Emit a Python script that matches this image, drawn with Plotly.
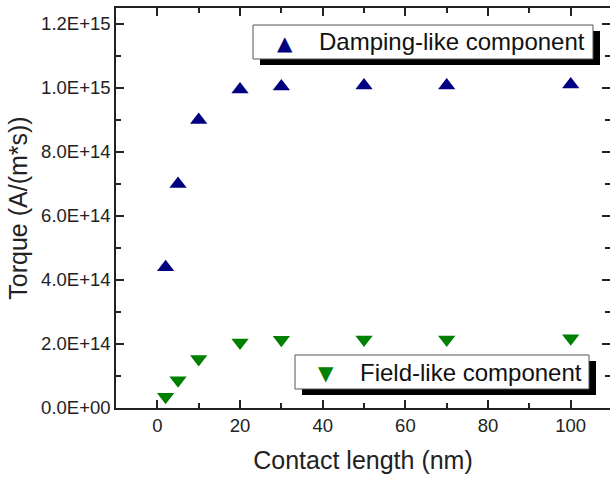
import plotly.graph_objects as go

contact_length = [2, 5, 10, 20, 30, 50, 70, 100]
damping_like = [0.44e15, 0.70e15, 0.90e15, 0.995e15, 1.005e15, 1.008e15, 1.008e15, 1.011e15]
field_like = [0.035e15, 0.087e15, 0.153e15, 0.205e15, 0.213e15, 0.214e15, 0.214e15, 0.218e15]

y_tickvals = [0, 2e14, 4e14, 6e14, 8e14, 1e15, 1.2e15]
y_ticktext = ["0.0E+00", "2.0E+14", "4.0E+14", "6.0E+14", "8.0E+14", "1.0E+15", "1.2E+15"]
x_tickvals = [0, 20, 40, 60, 80, 100]
series_names = ["Damping-like component", "Field-like component"]
series_colors = ["#000080", "#008000"]

FONT = "Liberation Sans, Arial, sans-serif"
AX = "#222222"
W, H = 610, 477
L, R, T, B = 116, 0, 8, 69
PW, PH = W - L - R, H - T - B
Y_RANGE = [0, 1.25e15]


def px(x):
    return (x - L) / PW


def py(y):
    return (H - B - y) / PH


fig = go.Figure()
fig.add_trace(go.Scatter(
    x=contact_length, y=damping_like, mode="markers", name=series_names[0],
    marker=dict(symbol="triangle-up", size=15, color=series_colors[0], line=dict(width=0)),
    yaxis="y",
))
fig.add_trace(go.Scatter(
    x=contact_length, y=field_like, mode="markers", name=series_names[1],
    marker=dict(symbol="triangle-down", size=15, color=series_colors[1], line=dict(width=0)),
    yaxis="y2",
))

tickfont = dict(family=FONT, size=18.5, color="#222222")
minor_y = dict(ticks="inside", dtick=1e14, tick0=0, ticklen=5, tickwidth=1.5, tickcolor=AX)

fig.update_xaxes(
    range=[-10, 109.5], tickvals=x_tickvals,
    showgrid=False, zeroline=False, showline=True, linecolor=AX, linewidth=1.5,
    mirror="ticks", ticks="inside", ticklen=8, tickwidth=1.5, tickcolor=AX,
    tickfont=tickfont,
    minor=dict(ticks="inside", dtick=10, tick0=0, ticklen=5, tickwidth=1.5, tickcolor=AX),
    title=dict(text="Contact length (nm)", font=dict(family=FONT, size=25, color="#222222"), standoff=17),
)

shapes = []
annotations = []
legend_boxes = [
    # (box x0, x1, y0, y1, marker x, text x, symbol)
    (253, 593, 25, 59, 285, 319, "▲"),
    (295, 589, 355, 389, 326, 360, "▼"),
]
for (x0, x1, y0, y1, mx, tx, sym), name, col in zip(legend_boxes, series_names, series_colors):
    shapes.append(dict(type="rect", xref="paper", yref="paper",
                       x0=px(x0 + 7), x1=px(x1 + 7), y0=py(y1 + 6), y1=py(y0 + 6),
                       fillcolor="black", line=dict(width=0), layer="above"))
    shapes.append(dict(type="rect", xref="paper", yref="paper",
                       x0=px(x0), x1=px(x1), y0=py(y1), y1=py(y0),
                       fillcolor="white", line=dict(width=1, color="#555555"), layer="above"))
    cy = (y0 + y1) / 2
    annotations.append(dict(xref="paper", yref="paper", x=px(mx), y=py(cy + 1),
                            text=sym, showarrow=False, xanchor="center", yanchor="middle",
                            font=dict(family="DejaVu Sans", size=20, color=col)))
    annotations.append(dict(xref="paper", yref="paper", x=px(tx - 2), y=py(cy),
                            text=name, showarrow=False, xanchor="left", yanchor="middle",
                            font=dict(family=FONT, size=24, color="#111111")))

fig.update_layout(
    width=W, height=H,
    margin=dict(l=L, r=R, t=T, b=B, autoexpand=False),
    paper_bgcolor="white", plot_bgcolor="white",
    showlegend=False,
    yaxis=dict(
        range=Y_RANGE, tickvals=y_tickvals, ticktext=y_ticktext,
        showgrid=False, zeroline=False, showline=True, linecolor=AX, linewidth=1.5,
        mirror=False, ticks="inside", ticklen=8, tickwidth=1.5, tickcolor=AX,
        tickfont=tickfont, minor=minor_y,
        title=dict(text="Torque (A/(m*s))", font=dict(family=FONT, size=25, color="#222222"), standoff=6),
    ),
    yaxis2=dict(overlaying="y", side="right", range=Y_RANGE, tickvals=y_tickvals,
                showticklabels=False, showgrid=False, zeroline=False, showline=False,
                ticks="inside", ticklen=8, tickwidth=1.5, tickcolor=AX, minor=minor_y),
    shapes=shapes,
    annotations=annotations,
)

fig.write_html("out.html")
